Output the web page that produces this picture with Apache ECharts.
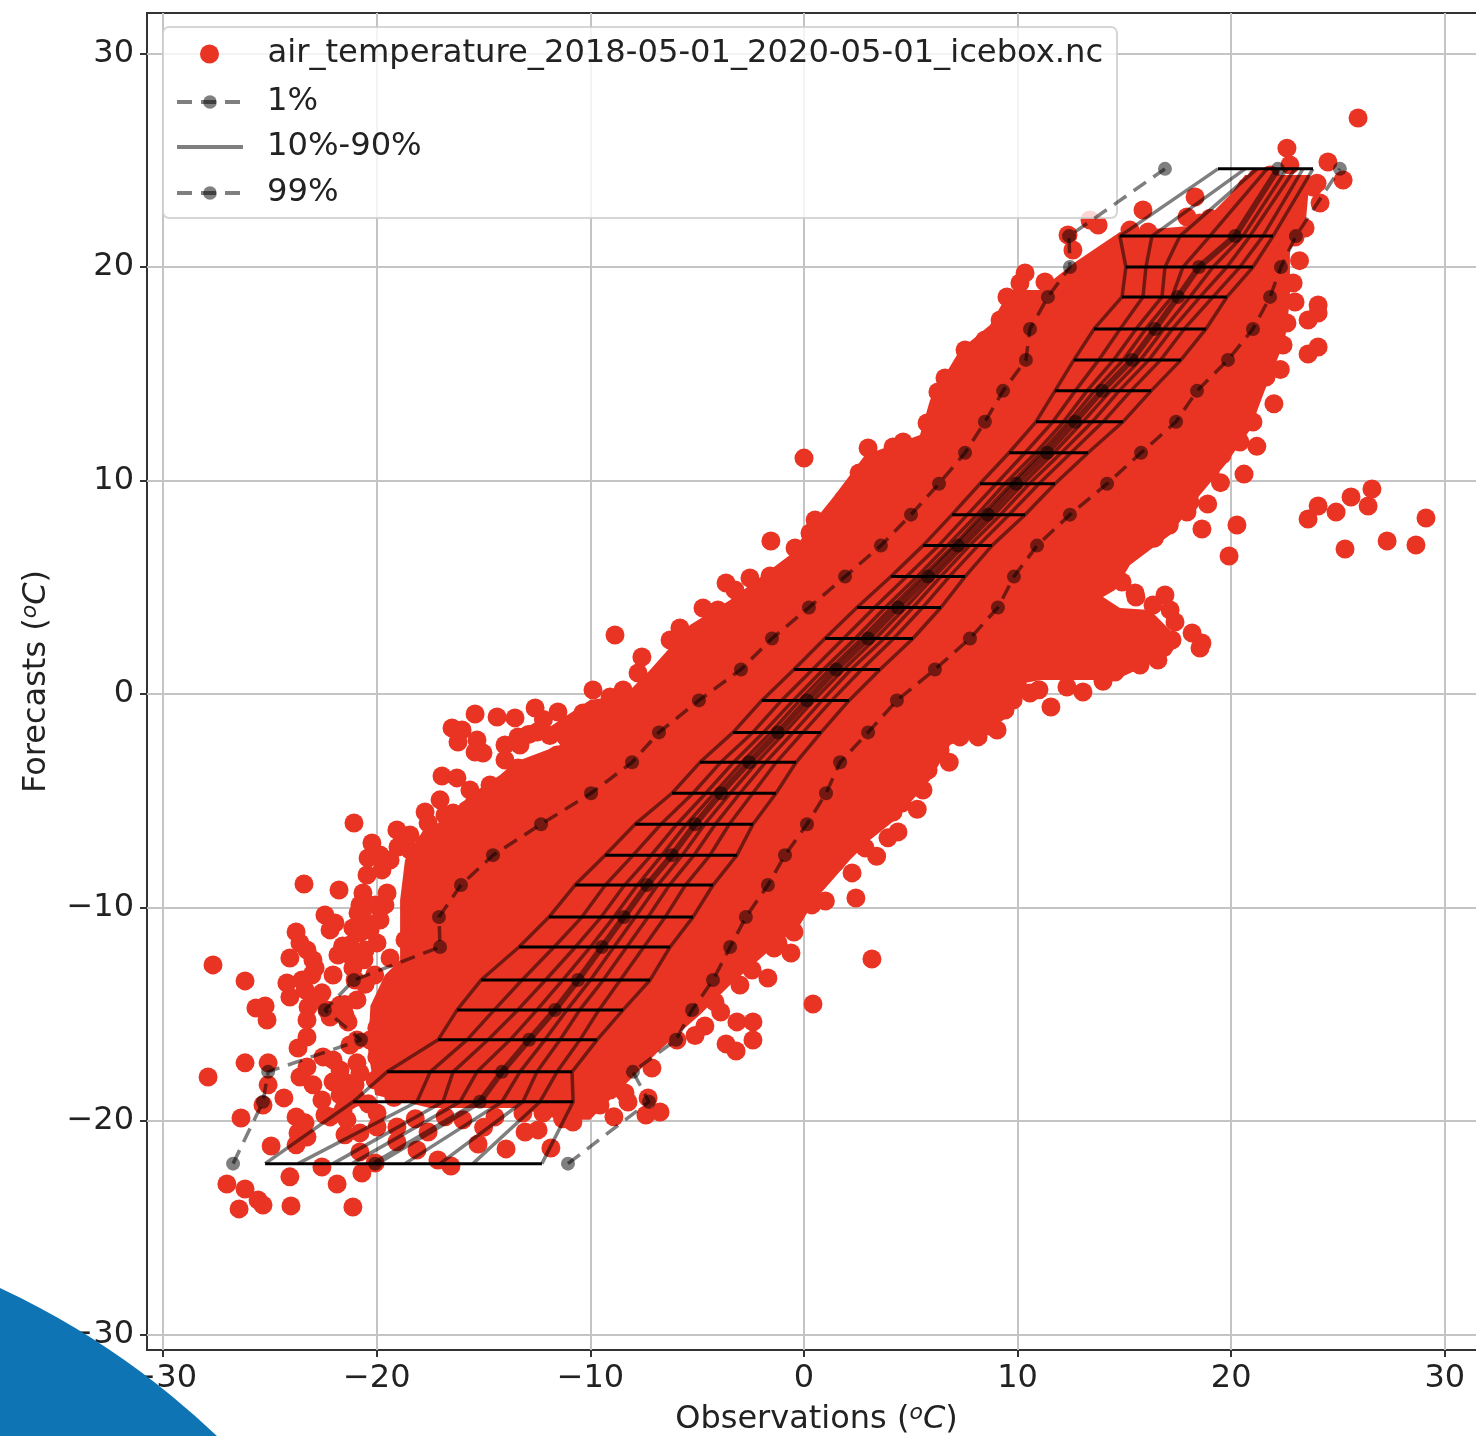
<!DOCTYPE html>
<html><head><meta charset="utf-8">
<style>html,body{margin:0;padding:0;background:#fff}#c{width:1476px;height:1436px;filter:blur(0.6px)}</style>
<script src="https://cdn.jsdelivr.net/npm/echarts@6/dist/echarts.min.js"></script>
</head><body><div id="c"></div>
<script>
const tickValues = [-30,-20,-10,0,10,20,30];
const forecastLevels = [-22,-19.1,-17.7,-16.2,-14.8,-13.4,-11.85,-10.45,-8.95,-7.55,-6.1,-4.65,-3.2,-1.8,-0.3,1.15,2.6,4.05,5.5,6.95,8.4,9.85,11.3,12.75,14.2,15.65,17.1,18.6,20,21.45,24.6];
const q01 = [-26.73,-25.33,-25.09,-20.74,-22.43,-21.07,-17.04,-17.09,-16.06,-14.56,-12.31,-9.97,-8.05,-6.79,-4.92,-2.95,-1.5,0.23,1.92,3.6,5.01,6.32,7.54,8.47,9.32,10.39,10.58,11.42,12.45,12.41,16.9];
const q10 = [-25.23,-21.11,-19.52,-17.13,-16.24,-15.12,-13.34,-11.94,-10.72,-9.31,-7.91,-6.18,-4.87,-3.32,-1.97,-0.47,0.98,2.48,4.07,5.57,6.93,8.24,9.6,10.86,11.75,12.64,13.58,14.89,15.07,14.79,19.38];
const q20 = [-23.69,-18.12,-17.5,-15.78,-14.5,-13.2,-11.7,-10.4,-9.3,-8.0,-6.7,-5.2,-3.9,-2.4,-1.05,0.4,1.85,3.3,4.8,6.3,7.65,9.0,10.35,11.65,12.7,13.8,14.8,15.87,16.01,16.29,20.65];
const q30 = [-22.05,-16.9,-16.43,-14.79,-13.4,-12.1,-10.7,-9.5,-8.4,-7.15,-5.95,-4.6,-3.3,-1.9,-0.5,0.9,2.4,3.8,5.3,6.7,8.1,9.4,10.85,12.15,13.25,14.5,15.55,16.76,16.9,17.6,21.21];
const q40 = [-21.16,-16.1,-15.31,-13.76,-12.5,-11.3,-10.0,-8.9,-7.8,-6.65,-5.5,-4.2,-2.9,-1.55,-0.2,1.2,2.7,4.1,5.55,7.0,8.35,9.7,11.1,12.4,13.6,14.95,16.0,17.23,17.74,19.0,21.68];
const q50 = [-20.08,-15.17,-14.14,-12.87,-11.66,-10.58,-9.46,-8.43,-7.35,-6.18,-5.1,-3.89,-2.57,-1.22,0.14,1.5,3,4.4,5.81,7.21,8.61,9.93,11.38,12.69,13.95,15.36,16.43,17.51,18.49,20.18,22.19];
const q60 = [-18.68,-14.14,-13.3,-12.13,-11.1,-10.0,-8.9,-7.9,-6.85,-5.7,-4.65,-3.45,-2.2,-0.9,0.45,1.85,3.35,4.75,6.1,7.5,8.9,10.25,11.7,13.05,14.35,15.75,16.85,18.07,19.15,20.55,22.61];
const q70 = [-17.04,-13.16,-12.5,-11.42,-10.5,-9.4,-8.3,-7.3,-6.3,-5.15,-4.15,-3.0,-1.8,-0.5,0.85,2.2,3.75,5.1,6.4,7.75,9.2,10.55,12.05,13.5,14.75,16.15,17.25,18.54,19.8,20.88,22.99];
const q80 = [-15.5,-12.36,-11.56,-10.49,-9.6,-8.6,-7.5,-6.5,-5.55,-4.4,-3.5,-2.4,-1.3,-0.05,1.3,2.7,4.2,5.55,6.8,8.15,9.6,11.0,12.5,14.0,15.3,16.7,17.8,19.15,20.41,21.49,23.36];
const q90 = [-12.27,-10.81,-10.86,-9.69,-8.47,-7.21,-6.27,-5.2,-4.26,-3.14,-2.39,-1.31,-0.37,0.8,2.11,3.56,5.1,6.41,7.54,8.8,10.35,11.75,13.3,14.93,16.25,17.65,18.82,19.8,21.02,21.96,23.83];
const q99 = [-11.05,-7.26,-8.01,-5.99,-5.24,-4.26,-3.46,-2.72,-1.69,-0.89,0.14,1.03,1.69,3.0,4.35,6.13,7.77,9.08,9.83,10.91,12.45,14.19,15.78,17.42,18.4,19.85,21.02,21.82,22.33,23.03,25.09];
// hull of the area where the individual markers merge into a solid mass
const denseHull = [[-20.08,-18.78],[-20.41,-16.67],[-20.3,-14.6],[-19.62,-13.16],[-18.91,-12.46],[-18.91,-9.65],[-18.68,-7.78],[-17.98,-6.6],[-16.57,-5.67],[-15.64,-4.73],[-14.23,-3.79],[-13.53,-3.19],[-11.42,-2.39],[-12.0,-1.6],[-10.02,-0.28],[-8.38,-0.05],[-7.21,1.12],[-5.34,3.23],[-3.46,4.4],[-0.66,6.51],[0.51,8.15],[1.45,9.32],[2.86,11.19],[5.43,12.13],[5.9,13.77],[7.3,16.11],[8.71,17.28],[9.64,18.92],[11.05,18.92],[12.69,20.23],[14.79,21.64],[18.54,21.97],[19.94,23.37],[20.65,24.31],[23.69,24.31],[23.46,21.73],[22.75,20.8],[22.75,18.45],[22.52,16.58],[21.58,14.24],[20.88,12.37],[19.71,10.73],[18.54,9.32],[17.13,7.45],[15.26,6.04],[14.56,4.87],[14.0,4.54],[14.79,4.03],[16.2,3.93],[17.6,2.53],[17.13,1.83],[14.56,0.66],[11.05,0.66],[9.88,0.42],[9.41,-0.52],[8.47,-1.69],[6.84,-2.39],[5.9,-4.03],[4.26,-5.9],[3.09,-6.84],[2.15,-7.78],[0.51,-9.65],[-0.19,-10.82],[-1.59,-11.99],[-3.46,-13.63],[-4.87,-15.03],[-6.74,-16.67],[-8.38,-18.31],[-10.02,-19.95],[-11.42,-19.95],[-13.3,-19.39],[-17.51,-19.39]];
const pointsLowerLeft = [[-27.67,-12.69],[-26.17,-13.44],[-25.66,-14.71],[-25.23,-14.61],[-25.14,-15.27],[-26.17,-17.28],[-25.09,-17.28],[-27.9,-17.94],[-25.09,-18.31],[-25.33,-19.25],[-24.35,-18.92],[-26.36,-19.86],[-24.95,-21.17],[-23.78,-19.81],[-23.36,-20.09],[-23.69,-20.56],[-23.78,-21.12],[-23.27,-20.75],[-23.6,-17.94],[-22.99,-18.31],[-22.57,-19.02],[-24.07,-22.62],[-22.57,-22.16],[-21.86,-22.95],[-27.02,-22.95],[-26.17,-23.19],[-25.56,-23.7],[-25.33,-23.94],[-26.45,-24.12],[-24.02,-23.98],[-21.12,-24.03],[-20.7,-22.44],[-20.08,-21.97],[-20.79,-21.45],[-19.06,-20.98],[-18.12,-21.36],[-17.14,-21.83],[-16.53,-22.11],[-15.26,-21.08],[-13.95,-21.31],[-11.85,-21.27],[-13.06,-20.52],[-12.45,-20.42],[-10.82,-20.05],[-17.6,-20.52],[-19.06,-20.28],[-19.99,-20.28],[-20.79,-20.56],[-21.4,-19.95],[-22.19,-19.81],[-21.58,-19.49],[-19.99,-19.63],[-15.97,-19.95],[-14.47,-19.81],[-13.16,-19.63],[-12.22,-19.63],[-22.05,-18.17],[-21.4,-18.22],[-20.79,-17.75],[-20.93,-17.28],[-22.52,-17.0],[-22.05,-17.14],[-23.27,-17.47],[-23.69,-16.58],[-21.35,-15.36],[-22.19,-15.13],[-20.93,-16.21],[-23.27,-16.07],[-23.27,-15.27],[-23.22,-14.66],[-24.07,-14.19],[-24.21,-13.54],[-23.5,-13.4],[-24.07,-12.37],[-23.6,-11.66],[-23.78,-11.15],[-22.99,-12.46],[-23.27,-11.99],[-23.04,-13.16],[-22.43,-10.35],[-21.96,-10.73],[-22.19,-11.05],[-21.82,-12.23],[-21.12,-10.96],[-20.79,-11.19],[-20.88,-10.26],[-22.57,-14.0],[-21.12,-12.83],[-22.05,-13.16],[-22.33,-14.8],[-21.02,-13.4],[-20.93,-14.33],[-20.32,-16.21],[-20.08,-18.08],[-18.91,-18.31],[-21.6,-11.8],[-21.3,-12.2],[-20.6,-12.45],[-20.1,-13.16],[-20.55,-13.6],[-21.5,-14.55],[-20.0,-15.65],[-20.0,-17.0],[-19.7,-17.75],[-19.2,-18.9],[-20.4,-19.2],[-21.0,-18.9],[-18.2,-19.9],[-16.8,-19.8],[-15.0,-20.3],[-11.3,-19.9],[-22.89,-12.83],[-23.36,-13.86],[-22.75,-14.33],[-21.72,-14.57],[-21.49,-15.03],[-21.26,-16.44],[-21.72,-17.61],[-21.02,-18.31],[-21.72,-18.78],[-22.43,-19.72],[-21.26,-19.02],[-21.49,-20.65]];
const pointsUpperLeft = [[-23.41,-8.9],[-21.77,-9.18],[-21.07,-6.04],[-20.46,-8.48],[-20.41,-7.68],[-20.23,-6.98],[-19.76,-8.24],[-19.06,-6.37],[-19.01,-7.17],[-20.65,-9.32],[-20.65,-10.49],[-20.88,-11.05],[-19.99,-11.66],[-19.38,-12.37],[-19.52,-9.32],[-18.68,-11.52],[-17.74,-5.53],[-17.6,-6.04],[-16.95,-3.84],[-16.25,-3.93],[-16.48,-1.59],[-16.01,-1.69],[-16.2,-2.25],[-15.31,-2.15],[-15.4,-2.72],[-15.03,-2.76],[-15.4,-0.94],[-14.37,-1.08],[-13.53,-1.12],[-12.59,-0.66],[-11.52,-0.84],[-13.39,-2.01],[-12.5,-1.78],[-10.35,-0.89],[-9.88,0.19],[-9.08,-0.14],[-8.47,0.19],[-16.43,-5.57],[-15.78,-5.43],[-14.61,-4.87],[-13.39,-3.47],[-12.5,-3.33],[-11.56,-2.86],[-17.51,-6.7],[-18.45,-7.31],[-14.0,-2.39],[-7.77,0.98],[-7.59,1.73],[-8.85,2.76],[-6.27,2.53],[-5.81,3.09],[-4.73,4.03],[-4.03,3.93],[-3.65,5.2],[-3.23,4.87],[-2.53,5.43],[-1.59,5.53],[-1.55,7.17],[-0.42,6.84],[0.28,7.54],[0.52,8.15],[1.83,9.09],[2.58,10.35],[0,11.05],[3.0,11.52],[3.32,10.96],[4.17,11.57],[4.64,11.8],[5.76,12.69],[6.27,14.15],[6.37,12.97],[6.6,14.8],[7.54,16.11],[8.47,16.58],[9.18,17.52],[9.5,18.6],[10.11,19.25],[10.35,19.72],[11.28,19.3],[11.38,18.22],[12.36,21.5],[12.59,20.8],[13.39,22.2],[13.77,21.97],[-20.08,-9.88],[-19.85,-10.59],[-20.32,-11.05],[-21.26,-11.76],[-20.55,-11.99],[-19.62,-9.88],[-20.79,-9.88],[-19.85,-7.54],[-19.38,-7.78],[-18.45,-6.6],[-17.04,-4.96],[-16.81,-5.67],[-15.64,-4.5],[-14.7,-4.26],[-14.0,-3.09],[-13.3,-2.39],[-12.9,-1.9],[-12.2,-1.2],[-11.9,-1.95]];
const pointsUpperRight = [[15.87,22.67],[18.31,23.28],[17.93,22.34],[15.26,21.73],[16.11,21.64],[19.01,22.29],[19.62,22.2],[18.54,22.06],[20.74,23.75],[21.21,24.17],[21.82,24.31],[22.75,24.78],[22.61,25.57],[24.53,24.92],[25.24,24.08],[25.94,26.98],[23.83,23.75],[24.02,23.93],[24.16,23.0],[23.46,21.83],[22.99,21.41],[22.15,21.97],[22.9,19.25],[22.99,18.36],[24.07,18.22],[24.07,17.85],[23.6,17.52],[24.07,16.25],[23.6,15.93],[22.61,17.38],[22.43,16.35],[21.72,15.88],[21.63,14.85],[21.02,12.74],[20.51,13.07],[20.41,11.8],[19.57,11.19],[19.01,10.4],[18.07,8.99],[17.93,8.52],[18.63,7.73],[20.27,7.92],[19.9,6.46],[15.83,7.59],[15.12,7.12],[14.47,6.18],[14.89,5.25],[16.9,4.64],[15.5,4.73],[22.3,15.2],[22.0,13.6],[21.2,11.6],[20.6,10.3],[19.5,9.9],[18.9,8.9],[17.1,7.9],[16.4,7.3],[23.2,20.3]];
const pointsFarRight = [[23.6,8.2],[24.07,8.81],[24.91,8.52],[25.61,9.23],[26.41,8.81],[26.59,9.6],[25.33,6.79],[27.3,7.17],[28.65,6.98],[29.12,8.24]];
const pointsLowerRight = [[15.54,4.54],[16.34,4.17],[17.14,3.93],[17.37,3.37],[17.23,2.53],[18.17,2.86],[18.63,2.39],[18.54,2.15],[16.57,1.59],[15.73,1.36],[14.56,1.03],[13.72,1.22],[13.06,0.09],[12.31,0.33],[11.56,-0.61],[10.58,0.05],[10.02,0.33],[9.79,-0.28],[9.41,-0.75],[9.04,-0.89],[9.04,-1.69],[8.15,-2.01],[7.3,-2.01],[6.37,-2.62],[5.81,-3.56],[5.57,-4.5],[5.06,-3.93],[4.59,-5.11],[4.17,-5.53],[4.4,-6.46],[3.93,-6.74],[2.86,-7.21],[2.25,-8.38],[2.43,-9.56],[1.45,-7.92],[0.37,-9.88],[-0.47,-11.15],[-1.22,-11.66],[-0.61,-12.13],[-1.69,-13.3],[3.18,-12.41],[0.42,-14.52],[-2.43,-12.93],[-3.0,-13.63],[-3.14,-15.36],[-2.39,-15.36],[-2.39,-16.21],[-3.65,-16.39],[-3.18,-16.72],[-4.17,-14.43],[-4.64,-15.55],[-5.95,-16.21],[-7.12,-17.52],[-8.38,-18.69],[-8.24,-19.11],[-7.3,-18.92],[-6.74,-19.58],[-7.4,-19.72],[-9.55,-19.25],[-9.08,-18.55],[-8.9,-19.8],[-5.1,-16.0],[-3.9,-14.9],[-1.4,-11.9],[1.0,-9.7],[3.4,-7.6],[5.3,-5.4],[6.8,-3.2],[8.7,-1.5],[11.0,0.2],[14.0,0.6],[15.2,2.0],[16.6,2.2]];

const scatterName = 'air_temperature_2018-05-01_2020-05-01_icebox.nc';
const red = '#e93323';
const font = '"DejaVu Sans"';
const pairs = q => q.map((x,i)=>[x,forecastLevels[i]]);
const dashed = (name,q) => ({
  type:'line', name, data:pairs(q), z:5, symbol:'circle', symbolSize:14, showSymbol:true,
  lineStyle:{color:'#000',opacity:0.5,width:3.5,type:[15,9]},
  itemStyle:{color:'#000',opacity:0.5,borderWidth:0}, emphasis:{disabled:true}, silent:true
});
const band = (q,width) => ({
  type:'line', name:'10%-90%', data:pairs(q), z:4, symbol:'none', showSymbol:false,
  lineStyle:{color:'#000',opacity:0.5,width:width||3.5},
  itemStyle:{color:'#000',opacity:0.5}, emphasis:{disabled:true}, silent:true
});
const tickAxis = (min,max,margin,extra) => Object.assign({
  type:'value', min, max, splitNumber:1,
  axisLine:{show:false,onZero:false},
  axisTick:{show:true,length:7,customValues:tickValues,lineStyle:{color:'#333',width:2}},
  axisLabel:{customValues:tickValues,fontFamily:font,fontSize:32,color:'#222',margin,
    showMinLabel:true,showMaxLabel:true,formatter:v=>String(v).replace('-','\u2212')},
  splitLine:{show:true,lineStyle:{color:'#c4c4c4',width:2}},
  nameLocation:'middle',
  nameTextStyle:{fontFamily:font,fontSize:32,color:'#222',
    rich:{a:{fontFamily:font,fontSize:32,color:'#222'},
      i:{fontFamily:font,fontSize:32,color:'#222',fontStyle:'italic'},
      s:{fontFamily:font,fontSize:22,color:'#222',fontStyle:'italic',padding:[0,0,14,0]}}}
},extra);
const legendText = {fontFamily:font,fontSize:32.2,color:'#222',padding:[0,0,0,19]};
const lineLegend = (item,top) => ({data:[item],left:162,top,padding:[0,0,0,13],itemWidth:66,itemHeight:17,z:6,
  lineStyle:{width:4},textStyle:legendText,selectedMode:false});

const chart = echarts.init(document.getElementById('c'),null,{renderer:'canvas'});
chart.setOption({
  animation:false,
  backgroundColor:'#fff',
  grid:{left:147,top:13,right:-10,bottom:86,outerBoundsMode:'none',show:true,borderColor:'#333',borderWidth:2,backgroundColor:'transparent'},
  xAxis:tickAxis(-30.76,31.93,13,{name:'{a|Observations (}{s|o}{i|C}{a|)}',nameGap:52}),
  yAxis:tickAxis(-30.73,31.9,13,{name:'{a|Forecasts (}{s|o}{i|C}{a|)}',nameGap:92}),
  legend:[
    {data:[scatterName],left:187,top:38,padding:[0,0,0,13],itemWidth:66,itemHeight:19,itemGap:0,z:6,
     textStyle:{fontFamily:font,fontSize:32.2,color:'#222',padding:[0,0,0,20]},selectedMode:false},
    lineLegend('1%',86),
    lineLegend({name:'10%-90%',itemStyle:{opacity:0}},131),
    lineLegend('99%',177)
  ],
  graphic:{elements:[
    {type:'rect',z:3,zlevel:0,shape:{x:163,y:27,width:954,height:191,r:6},silent:true,
     style:{fill:'rgba(255,255,255,0.8)',stroke:'rgba(204,204,204,0.8)',lineWidth:2}},
    {type:'circle',z:20,shape:{cx:-340,cy:2020,r:807},silent:true,style:{fill:'#0e74b4'}}
  ]},
  series:[
    {type:'custom',name:'dense',z:1,silent:true,coordinateSystem:'cartesian2d',data:denseHull,
     encode:{x:0,y:1},clip:true,
     renderItem:(p,api)=> p.dataIndex!==0 ? null : ({type:'polygon',
       shape:{points:denseHull.map(d=>api.coord(d))},style:{fill:red}})},
    {type:'scatter',name:scatterName,z:2,symbol:'circle',symbolSize:19,silent:true,
     data:[...pointsLowerLeft,...pointsUpperLeft,...pointsUpperRight,...pointsFarRight,...pointsLowerRight],
     itemStyle:{color:red,opacity:1}},
    band(q10),band(q20),band(q30),band(q40),band(q50,6),band(q60),band(q70),band(q80),band(q90),
    dashed('1%',q01),dashed('99%',q99),
    {type:'scatter',name:'median',z:5,symbol:'circle',symbolSize:14,silent:true,data:pairs(q50),
     itemStyle:{color:'#000',opacity:0.5}},
    {type:'custom',name:'levels',z:6,silent:true,coordinateSystem:'cartesian2d',
     data:forecastLevels.map((y,i)=>[q10[i],q90[i],y]),encode:{x:[0,1],y:2},
     renderItem:(p,api)=>{
       const a=api.coord([api.value(0),api.value(2)]), b=api.coord([api.value(1),api.value(2)]);
       return {type:'line',shape:{x1:a[0],y1:a[1],x2:b[0],y2:b[1]},style:{stroke:'#000',lineWidth:3}};
     }}
  ]
});
</script></body></html>
